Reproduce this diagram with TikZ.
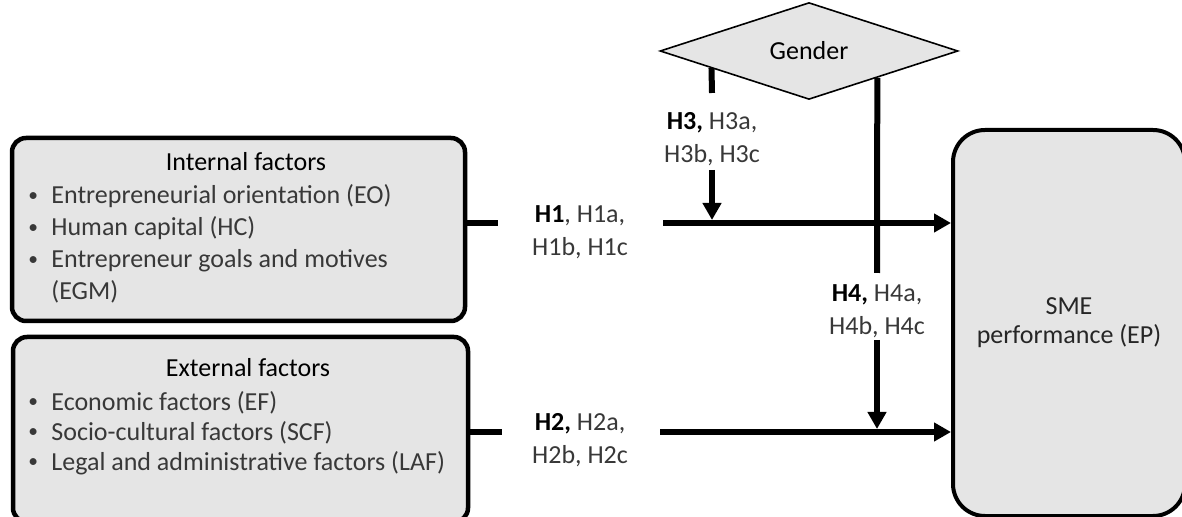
\documentclass[tikz,border=0pt]{standalone}
\usepackage{fontspec}
\setmainfont{Carlito}
\usetikzlibrary{positioning,calc,shapes.geometric,arrows.meta}

\newcommand{\hyb}[1]{\textbf{\color{black}#1}}
\newcommand{\itembullet}{\makebox[13pt][l]{\hspace{1.5pt}\raisebox{0.2ex}{\scalebox{0.75}{•}}}}

\begin{document}
\begin{tikzpicture}[
    x=0.5pt, y=-0.5pt,
    font=\fontsize{13}{16}\selectfont,
    factorbox/.style={
        draw,
        line width=2.25pt,
        rounded corners=7pt,
        fill=black!10,
        inner sep=0pt
    },
    outcome/.style={
        draw,
        line width=2pt,
        rounded corners=16pt,
        fill=black!10,
        align=center,
        text=black!85,
        font=\fontsize{13}{14.5}\selectfont
    },
    moderator/.style={
        diamond,
        draw,
        line width=0.8pt,
        fill=black!10,
        inner sep=0pt,
        minimum width=149pt,
        minimum height=42pt
    },
    boxtitle/.style={inner sep=0pt},
    items/.style={align=left, text=black!78, inner sep=0pt, anchor=west},
    hyp/.style={align=center, text=black!78, inner sep=0pt,
        font=\fontsize{13}{16.5}\selectfont},
    link/.style={line width=3.25pt},
    arrow/.style={link, -{Triangle[length=8.5pt,width=9pt]}}
]
\useasboundingbox (0,0) rectangle (1182,517);

% boxes
\node[factorbox, minimum width=226.5pt, minimum height=91.5pt] (intbox) at (238.5,229.5) {};
\node[factorbox, minimum width=227.5pt, minimum height=92.5pt] (extbox) at (240.5,429.5) {};
\node[outcome, minimum width=116pt, minimum height=193pt] (smebox) at (1069,323) {SME\\performance (EP)};
\node[moderator] (gender) at (809,51) {Gender};

% box texts
\node[boxtitle] (inttitle) at (246,162) {Internal factors};
\node[items] (intitems) at (25,244) {%
    \itembullet Entrepreneurial orientation (EO)\\
    \itembullet Human capital (HC)\\
    \itembullet Entrepreneur goals and motives\\
    \hspace{13pt}(EGM)};
\node[boxtitle] (exttitle) at (248,368) {External factors};
\node[items, font=\fontsize{13}{15}\selectfont] (extitems) at (25,433) {%
    \itembullet Economic factors (EF)\\
    \itembullet Socio-cultural factors (SCF)\\
    \itembullet Legal and administrative factors (LAF)};

% hypothesis labels
\node[hyp] (h1lbl) at (580,232) {\hyb{H1}, H1a,\\H1b, H1c};
\node[hyp] (h2lbl) at (580,440) {\hyb{H2,} H2a,\\H2b, H2c};
\node[hyp] (h3lbl) at (712,139) {\hyb{H3,} H3a,\\H3b, H3c};
\node[hyp] (h4lbl) at (877,311) {\hyb{H4,} H4a,\\H4b, H4c};

% direct paths
\coordinate (h1in) at (498,223);
\coordinate (h1out) at (663,223);
\draw[link] (intbox.east |- h1in) -- (h1in);
\draw[arrow] (h1out) -- (smebox.west |- h1out);

\coordinate (h2in) at (502,432);
\coordinate (h2out) at (660,432);
\draw[link] (extbox.east |- h2in) -- (h2in);
\draw[arrow] (h2out) -- (smebox.west |- h2out);

% moderating paths
\coordinate (h3top) at (712,93);
\coordinate (h3start) at (712,170);
\draw[link, line width=3pt] ($(gender.west)!0.349!(gender.south)$) -- (h3top);
\draw[arrow, line width=3pt, shorten >=1.5pt] (h3start) -- (h3start |- h1out);

\coordinate (h4top) at (877,273);
\coordinate (h4start) at (877,340);
\draw[link, line width=3pt] ($(gender.south)!0.456!(gender.east)$) -- (h4top);
\draw[arrow, line width=3pt, shorten >=1.5pt] (h4start) -- (h4start |- h2out);

\end{tikzpicture}
\end{document}
